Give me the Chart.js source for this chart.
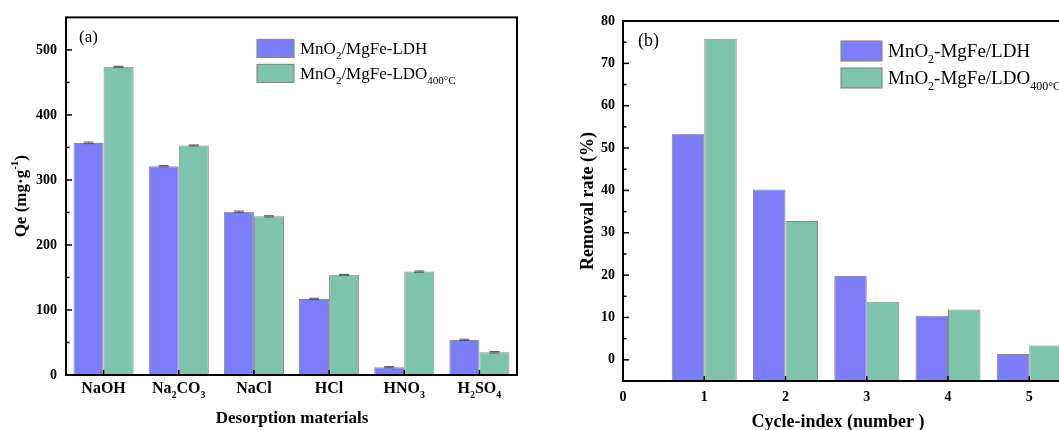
<!DOCTYPE html>
<html>
<head>
<meta charset="utf-8">
<script src="https://cdn.jsdelivr.net/npm/chart.js@4.4.1/dist/chart.umd.min.js"></script>
<style>
  html, body { margin: 0; padding: 0; background: #fff; overflow: hidden; }
  #wrap { position: relative; width: 1059px; height: 430px; overflow: hidden; }
  .panel { position: absolute; top: 0; height: 430px; }
  #panel-a { left: 0; width: 540px; }
  #panel-b { left: 540px; width: 560px; }
</style>
</head>
<body>
<div id="wrap">
  <div class="panel" id="panel-a"><canvas id="chart-desorption"></canvas></div>
  <div class="panel" id="panel-b"><canvas id="chart-cycles"></canvas></div>
</div>
<script>
// (a) desorption agents
const desorbents = ['NaOH', 'Na_{2}CO_{3}', 'NaCl', 'HCl', 'HNO_{3}', 'H_{2}SO_{4}'];
const qeLdh = [357, 321, 251, 117, 12, 54];
const qeLdo = [474, 353, 244, 154, 159, 35];
const qeLdhErr = [1.2, 1.0, 1.2, 1.0, 1.0, 1.0];
const qeLdoErr = [0.8, 0.8, 1.0, 0.8, 1.0, 1.2];

// (b) regeneration cycles
const cycles = [1, 2, 3, 4, 5];
const removalLdh = [53.4, 40.2, 19.8, 10.4, 1.4];
const removalLdo = [75.8, 32.8, 13.7, 11.9, 3.4];

const SERIF = '"Liberation Serif", "Times New Roman", serif';
const BLUE = 'rgb(125, 125, 250)';
const GREEN = 'rgb(126, 196, 172)';
const EDGE = '#8a8a8a';

// text with _{sub} and ^{sup} runs
function parseRich(text) {
    const parts = [];
    const re = /([_^])\{([^}]*)\}|([^_^]+)/g;
    let m;
    while ((m = re.exec(text))) {
        if (m[3]) parts.push({ t: m[3], shift: 0 });
        else parts.push({ t: m[2], shift: m[1] === '_' ? 1 : -1 });
    }
    return parts;
}

function drawRich(ctx, text, x, y, size, bold, align) {
    const parts = parseRich(text);
    const weight = bold ? 'bold ' : '';
    const fontFor = p => `${weight}${p.shift ? Math.round(size * 0.62) : size}px ${SERIF}`;
    let total = 0;
    parts.forEach(p => {
        ctx.font = fontFor(p);
        p.w = ctx.measureText(p.t).width;
        total += p.w;
    });
    let cx = align === 'center' ? x - total / 2 : align === 'right' ? x - total : x;
    ctx.textAlign = 'left';
    ctx.textBaseline = 'alphabetic';
    ctx.fillStyle = '#000';
    const base = y + size * 0.33;
    parts.forEach(p => {
        ctx.font = fontFor(p);
        const dy = p.shift === 1 ? size * 0.28 : p.shift === -1 ? -size * 0.42 : 0;
        ctx.fillText(p.t, cx, base + dy);
        cx += p.w;
    });
}

function line(ctx, x1, y1, x2, y2) {
    ctx.beginPath();
    ctx.moveTo(x1, y1);
    ctx.lineTo(x2, y2);
    ctx.stroke();
}

// inward ticks + box frame
function frameTicks(minorStep) {
    return {
        id: 'frameTicks',
        afterDatasetsDraw(chart) {
            const { ctx, chartArea: a, scales: { x, y } } = chart;
            ctx.save();
            ctx.strokeStyle = '#000';
            ctx.lineWidth = 1.5;
            y.ticks.forEach(t => {
                const py = y.getPixelForValue(t.value);
                line(ctx, a.left, py, a.left + 6, py);
            });
            for (let v = y.min + minorStep; v < y.max; v += minorStep) {
                if (y.ticks.some(t => Math.abs(t.value - v) < 1e-6)) continue;
                const py = y.getPixelForValue(v);
                line(ctx, a.left, py, a.left + 3.5, py);
            }
            x.ticks.forEach((t, i) => {
                const px = x.getPixelForTick(i);
                line(ctx, px, a.bottom, px, a.bottom - 5);
            });
            ctx.lineWidth = 2;
            ctx.strokeRect(a.left, a.top, a.right - a.left, a.bottom - a.top);
            ctx.restore();
        }
    };
}

function legendBox(items, dx, dy, boxW, boxH, gap, size) {
    return {
        id: 'legendBox',
        afterDraw(chart) {
            const { ctx, chartArea: a } = chart;
            ctx.save();
            items.forEach((it, i) => {
                const bx = a.left + dx;
                const by = a.top + dy + i * (boxH + gap);
                ctx.fillStyle = it.color;
                ctx.fillRect(bx, by, boxW, boxH);
                ctx.strokeStyle = EDGE;
                ctx.lineWidth = 1.2;
                ctx.strokeRect(bx, by, boxW, boxH);
                drawRich(ctx, it.label, bx + boxW + 6, by + boxH / 2, size, false, 'left');
            });
            ctx.restore();
        }
    };
}

function axisTitles(t) {
    return {
        id: 'axisTitles',
        afterDraw(chart) {
            const { ctx, chartArea: a } = chart;
            ctx.save();
            drawRich(ctx, t.tag, a.left + t.tagX, a.top + t.tagY, t.tagSize, false, 'left');
            drawRich(ctx, t.x, t.xPos, a.bottom + t.xOff, t.xSize, true, 'center');
            ctx.translate(t.yPos, (a.top + a.bottom) / 2);
            ctx.rotate(-Math.PI / 2);
            drawRich(ctx, t.y, 0, 0, t.ySize, true, 'center');
            ctx.restore();
        }
    };
}

const errorBars = {
    id: 'errorBars',
    afterDatasetsDraw(chart) {
        const { ctx, scales: { y } } = chart;
        ctx.save();
        ctx.strokeStyle = '#555';
        ctx.lineWidth = 1;
        chart.data.datasets.forEach((ds, di) => {
            chart.getDatasetMeta(di).data.forEach((bar, i) => {
                const v = ds.data[i], e = ds.errors[i];
                const top = y.getPixelForValue(v + e);
                const bot = y.getPixelForValue(v - e);
                const half = 5;
                line(ctx, bar.x, top, bar.x, bot);
                line(ctx, bar.x - half, top, bar.x + half, top);
                line(ctx, bar.x - half, bot, bar.x + half, bot);
            });
        });
        ctx.restore();
    }
};

const tickFont = { family: SERIF, size: 14, weight: 'bold' };

const chemLabels = {
    id: 'chemLabels',
    afterDraw(chart) {
        const { ctx, chartArea: a, scales: { x } } = chart;
        ctx.save();
        desorbents.forEach((name, i) => {
            drawRich(ctx, name, x.getPixelForTick(i), a.bottom + 13, 16, true, 'center');
        });
        ctx.restore();
    }
};

new Chart(document.getElementById('chart-desorption'), {
    type: 'bar',
    data: {
        labels: desorbents,
        datasets: [
            { label: 'LDH', data: qeLdh, errors: qeLdhErr, backgroundColor: BLUE, borderColor: EDGE, borderWidth: 1 },
            { label: 'LDO', data: qeLdo, errors: qeLdoErr, backgroundColor: GREEN, borderColor: EDGE, borderWidth: 1 }
        ]
    },
    options: {
        responsive: true,
        maintainAspectRatio: false,
        animation: false,
        events: [],
        layout: { padding: { left: 0, right: 23, top: 14, bottom: 0 } },
        datasets: { bar: { categoryPercentage: 0.8, barPercentage: 1 } },
        plugins: { legend: { display: false }, tooltip: { enabled: false } },
        scales: {
            x: {
                grid: { display: false },
                border: { display: false },
                ticks: { display: false },
                afterFit(scale) { scale.height = 55; }
            },
            y: {
                min: 0,
                max: 550,
                grid: { display: false, drawTicks: false },
                border: { display: false },
                ticks: { stepSize: 100, includeBounds: false, padding: 9, color: '#000', font: tickFont },
                afterFit(scale) { scale.width = 66; }
            }
        }
    },
    plugins: [
        errorBars,
        frameTicks(50),
        chemLabels,
        legendBox([
            { label: 'MnO_{2}/MgFe-LDH', color: BLUE },
            { label: 'MnO_{2}/MgFe-LDO_{400°C}', color: GREEN }
        ], 191, 22, 37, 18, 7, 17),
        axisTitles({
            tag: '(a)', tagX: 13, tagY: 19, tagSize: 17,
            x: 'Desorption materials', xPos: 292, xOff: 42, xSize: 17,
            y: 'Qe (mg·g^{-1})', yPos: 20, ySize: 17
        })
    ]
});

new Chart(document.getElementById('chart-cycles'), {
    type: 'bar',
    data: {
        labels: cycles,
        datasets: [
            { label: 'LDH', data: removalLdh, base: -5, backgroundColor: BLUE, borderColor: EDGE, borderWidth: 1 },
            { label: 'LDO', data: removalLdo, base: -5, backgroundColor: GREEN, borderColor: EDGE, borderWidth: 1 }
        ]
    },
    options: {
        responsive: true,
        maintainAspectRatio: false,
        animation: false,
        events: [],
        layout: { padding: { left: 0, right: 22, top: 21, bottom: 0 } },
        datasets: { bar: { categoryPercentage: 0.8, barPercentage: 1 } },
        plugins: { legend: { display: false }, tooltip: { enabled: false } },
        scales: {
            x: {
                type: 'linear',
                offset: false,
                min: 0,
                max: 5.6,
                grid: { display: false, drawTicks: false, offset: false },
                border: { display: false },
                ticks: { stepSize: 1, includeBounds: false, padding: 8, maxRotation: 0, color: '#000', font: tickFont },
                afterFit(scale) { scale.height = 49; }
            },
            y: {
                min: -5,
                max: 80,
                grid: { display: false, drawTicks: false },
                border: { display: false },
                ticks: { stepSize: 10, includeBounds: false, padding: 8, color: '#000', font: tickFont },
                afterFit(scale) { scale.width = 83; }
            }
        }
    },
    plugins: [
        frameTicks(5),
        legendBox([
            { label: 'MnO_{2}-MgFe/LDH', color: BLUE },
            { label: 'MnO_{2}-MgFe/LDO_{400°C}', color: GREEN }
        ], 218, 20, 41, 20, 7, 19),
        axisTitles({
            tag: '(b)', tagX: 15, tagY: 19, tagSize: 18,
            x: 'Cycle-index (number )', xPos: 298, xOff: 40, xSize: 18,
            y: 'Removal rate (%)', yPos: 47, ySize: 18
        })
    ]
});
</script>
</body>
</html>
